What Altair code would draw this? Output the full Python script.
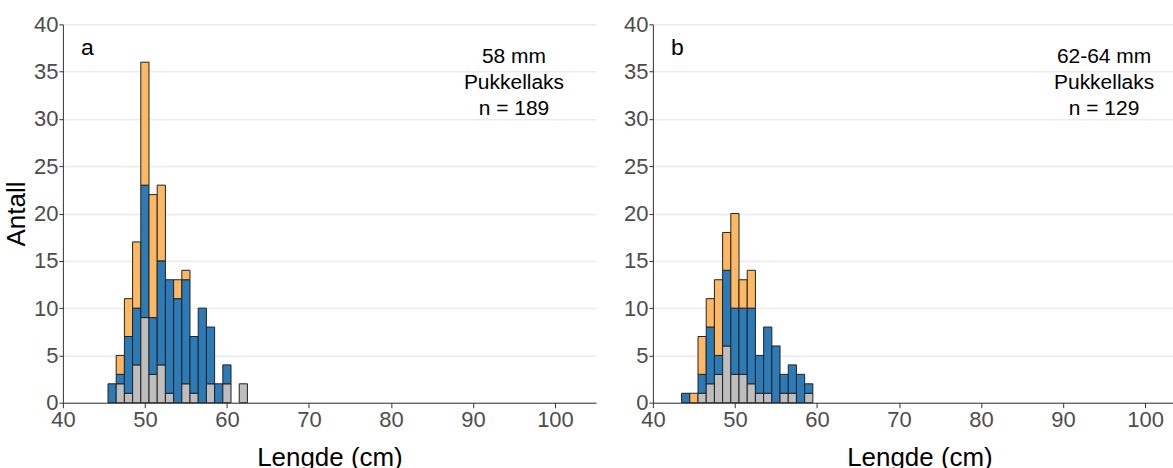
import altair as alt
import pandas as pd

# ---- data ----
groups = ["gray", "blue", "orange"]
colors = ["#BEBEBE", "#2C7BB6", "#FDB863"]

len_a = [46, 47, 48, 49, 50, 51, 52, 53, 54, 55, 56, 57, 58, 59, 60, 61, 62]
gray_a = [0, 2, 1, 4, 9, 3, 4, 1, 0, 2, 1, 0, 2, 0, 2, 0, 2]
blue_a = [2, 1, 6, 6, 14, 6, 11, 12, 11, 11, 6, 10, 6, 2, 2, 0, 0]
orange_a = [0, 2, 4, 7, 13, 13, 8, 0, 2, 1, 0, 0, 0, 0, 0, 0, 0]

len_b = [44, 45, 46, 47, 48, 49, 50, 51, 52, 53, 54, 55, 56, 57, 58, 59]
gray_b = [0, 0, 1, 2, 3, 6, 3, 3, 2, 1, 1, 0, 1, 1, 0, 1]
blue_b = [1, 0, 2, 6, 2, 8, 7, 7, 8, 4, 7, 6, 2, 3, 3, 1]
orange_b = [0, 1, 4, 3, 8, 4, 10, 3, 4, 0, 0, 0, 0, 0, 0, 0]

ann_a = ["58 mm", "Pukkellaks", "n = 189"]
ann_b = ["62-64 mm", "Pukkellaks", "n = 129"]
ann_y = [36.6, 33.8, 31.0]
ann_x = 95.0
panel_letters = ["a", "b"]
letter_pos = (43.0, 37.5)

x_ticks = [40, 50, 60, 70, 80, 90, 100]
y_ticks = [0, 5, 10, 15, 20, 25, 30, 35, 40]

FONT = "Liberation Sans"


def long_table(lengths, gray, blue, orange):
    rows = []
    for i, L in enumerate(lengths):
        for k, (g, vals) in enumerate(zip(groups, [gray, blue, orange])):
            rows.append({"length": L, "group": g, "order": k, "count": vals[i]})
    return pd.DataFrame(rows)


def panel(df, letter, ann, xmax, width, ytitle, titlex):
    xscale = alt.Scale(domain=[40, xmax], nice=False, zero=False)
    yscale = alt.Scale(domain=[0, 40], nice=False)
    xaxis = alt.Axis(values=x_ticks, grid=False, domain=True, domainColor="#333333",
                     domainWidth=1, ticks=True, tickColor="#333333", tickSize=5,
                     labelFontSize=22, labelColor="#4D4D4D", labelFont=FONT,
                     labelPadding=2, labelFlush=False, title="Lengde (cm)",
                     titleFont=FONT, titleFontSize=26, titleFontWeight="normal",
                     titleColor="#000000", titlePadding=14, titleX=titlex)
    yargs = dict(values=y_ticks, grid=True, gridColor="#EBEBEB", gridWidth=1.5,
                 domain=True, domainColor="#333333", domainWidth=1, ticks=True,
                 tickColor="#333333", tickSize=4, labelFontSize=22,
                 labelColor="#4D4D4D", labelFont=FONT, labelPadding=1,
                 minExtent=28, maxExtent=28)
    if ytitle:
        yaxis = alt.Axis(title=ytitle, titleFont=FONT, titleFontSize=26,
                         titleFontWeight="normal", titleColor="#000000",
                         titlePadding=5, **yargs)
    else:
        yaxis = alt.Axis(title=None, **yargs)

    bars = (
        alt.Chart(df)
        .transform_filter("datum.count > 0")
        .transform_window(cum="sum(count)", groupby=["length"],
                          sort=[alt.SortField("order")], frame=[None, 0])
        .transform_calculate(x0="datum.length - 0.5", x1="datum.length + 0.5",
                             y0="datum.cum - datum.count")
        .mark_bar(stroke="#222222", strokeWidth=1)
        .encode(
            x=alt.X("x0:Q", scale=xscale, axis=xaxis),
            x2="x1:Q",
            y=alt.Y("cum:Q", scale=yscale, axis=yaxis),
            y2="y0:Q",
            color=alt.Color("group:N", scale=alt.Scale(domain=groups, range=colors),
                            legend=None),
        )
    )
    ann_df = pd.DataFrame({"x": [ann_x] * len(ann), "y": ann_y, "t": ann})
    ann_layer = alt.Chart(ann_df).mark_text(font=FONT, fontSize=21, color="#000000",
                                            align="center", baseline="middle").encode(
        x=alt.X("x:Q", scale=xscale), y=alt.Y("y:Q", scale=yscale), text="t:N")
    let_df = pd.DataFrame({"x": [letter_pos[0]], "y": [letter_pos[1]], "t": [letter]})
    let_layer = alt.Chart(let_df).mark_text(font=FONT, fontSize=23, color="#000000",
                                            align="center", baseline="middle").encode(
        x=alt.X("x:Q", scale=xscale), y=alt.Y("y:Q", scale=yscale), text="t:N")
    return alt.layer(bars, ann_layer, let_layer).properties(width=width, height=379)


df_a = long_table(len_a, gray_a, blue_a, orange_a)
df_b = long_table(len_b, gray_b, blue_b, orange_b)

pa = panel(df_a, panel_letters[0], ann_a, 105, 534, "Antall", 267)
pb = panel(df_b, panel_letters[1], ann_b, 103.4, 521, None, 267)

chart = (
    alt.hconcat(pa, pb, spacing=27)
    .properties(padding={"left": 4, "top": 13, "right": 0, "bottom": 0},
                background="#FFFFFF")
    .configure_view(stroke=None)
)

chart.save("out.html", embed_options={"renderer": "svg", "actions": False})
